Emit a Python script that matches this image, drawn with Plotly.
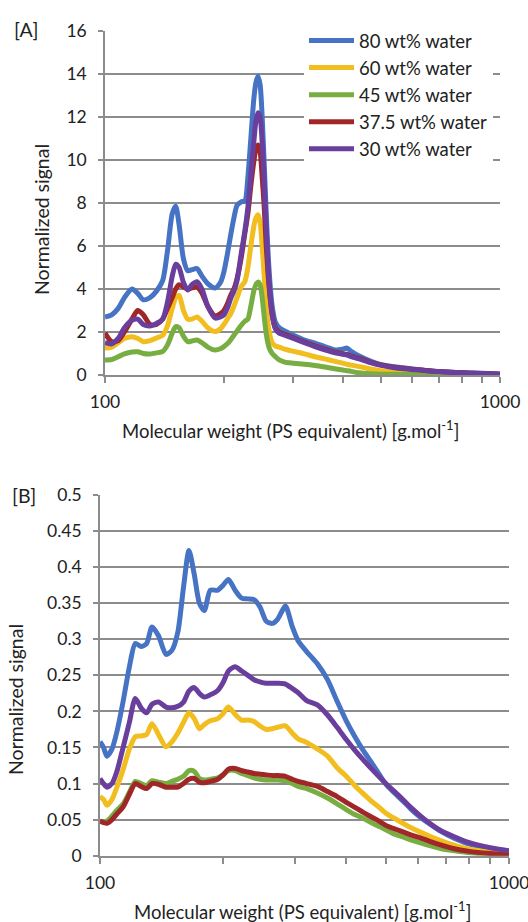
import plotly.graph_objects as go

# ---------------- Panel A data ----------------
mw_a = [100, 104, 108, 112, 117, 121, 125, 130, 135, 140,
        144, 148, 151, 154, 158, 162, 166, 171, 176, 182,
        190, 196, 200, 204, 208, 212, 216, 221, 226, 230,
        234, 238, 241, 244, 247, 250, 253, 256, 260, 265,
        270, 276, 285, 300, 320, 340, 360, 385, 400, 410,
        420, 440, 470, 500, 540, 600, 650, 700, 800, 900, 1000]

a_w80 = [2.7, 2.8, 3.1, 3.6, 4.0, 3.8, 3.5, 3.6, 3.9, 4.4,
         5.8, 7.5, 7.85, 7.0, 5.4, 4.85, 4.9, 4.95, 4.6, 4.25,
         4.05, 4.3, 4.8, 5.6, 6.5, 7.3, 7.9, 8.05, 8.1, 9.2,
         11.0, 12.8, 13.6, 13.9, 13.5, 12.0, 9.8, 7.5, 5.0, 3.2,
         2.45, 2.2, 2.05, 1.85, 1.62, 1.48, 1.32, 1.16, 1.2, 1.25,
         1.1, 0.88, 0.65, 0.48, 0.38, 0.28, 0.2, 0.15, 0.1, 0.08, 0.05]

a_w60 = [1.25, 1.3, 1.5, 1.7, 1.78, 1.7, 1.55, 1.6, 1.72, 1.85,
         2.3, 3.1, 3.6, 3.7, 3.0, 2.6, 2.6, 2.7, 2.5, 2.2,
         2.02, 2.15, 2.35, 2.6, 2.85, 3.2, 3.6, 4.1, 4.35, 5.0,
         6.0, 6.9, 7.3, 7.45, 7.1, 6.0, 4.6, 3.2, 2.1, 1.5,
         1.35, 1.3, 1.2, 1.1, 0.98, 0.85, 0.75, 0.62, 0.55, 0.5,
         0.46, 0.39, 0.28, 0.2, 0.14, 0.08, 0.06, 0.05, 0.03, 0.02, 0.01]

a_w45 = [0.7, 0.72, 0.85, 0.98, 1.07, 1.08, 1.0, 0.98, 1.03, 1.1,
         1.4, 1.95, 2.25, 2.2, 1.8, 1.55, 1.58, 1.63, 1.5, 1.3,
         1.16, 1.22, 1.32, 1.45, 1.63, 1.85, 2.05, 2.3, 2.5, 2.6,
         3.2, 3.9, 4.2, 4.33, 4.2, 3.6, 2.7, 1.9, 1.3, 1.0,
         0.85, 0.7, 0.6, 0.55, 0.5, 0.44, 0.37, 0.28, 0.23, 0.2,
         0.17, 0.1, 0.06, 0.04, 0.03, 0.02, 0.01, 0.01, 0.0, 0.0, 0.0]

a_w375 = [1.95, 1.55, 1.6, 2.0, 2.6, 3.0, 2.8, 2.35, 2.35, 2.6,
          3.1, 3.6, 4.0, 4.2, 4.1, 4.0, 4.05, 4.1, 3.8, 3.2,
          2.75, 2.85, 3.0, 3.3, 3.7, 4.0, 4.5, 5.4, 6.6, 7.5,
          8.8, 9.9, 10.5, 10.7, 10.4, 9.2, 7.8, 6.0, 4.2, 2.8,
          2.2, 2.0, 1.9, 1.73, 1.53, 1.35, 1.2, 1.05, 0.99, 0.96,
          0.89, 0.78, 0.6, 0.47, 0.36, 0.27, 0.21, 0.16, 0.1, 0.07, 0.04]

a_w30 = [1.5, 1.45, 1.7, 2.2, 2.55, 2.6, 2.35, 2.28, 2.4, 2.6,
         3.4, 4.6, 5.15, 5.0, 4.3, 3.95, 4.2, 4.34, 4.0, 3.2,
         2.65, 2.7, 2.8, 3.1, 3.55, 3.9, 4.4, 5.6, 6.7, 7.8,
         9.3, 10.8, 11.8, 12.2, 12.0, 10.8, 9.0, 6.8, 4.4, 2.8,
         2.15, 1.95, 1.85, 1.7, 1.5, 1.32, 1.17, 1.02, 0.96, 0.93,
         0.86, 0.75, 0.58, 0.45, 0.34, 0.26, 0.2, 0.16, 0.1, 0.07, 0.04]

# ---------------- Panel B data ----------------
mw_b = [100, 102, 104, 107, 110, 114, 118, 122, 126, 130,
        134, 139, 145, 150, 155, 160, 165, 170, 175, 180,
        186, 194, 200, 206, 214, 222, 230, 238, 246, 255,
        264, 272, 284, 295, 305, 320, 340, 360, 380, 400,
        420, 440, 460, 484, 500, 520, 550, 575, 605, 640,
        680, 730, 800, 900, 1000]

b_w80 = [0.158, 0.15, 0.138, 0.148, 0.172, 0.215, 0.262, 0.294, 0.29, 0.294,
         0.317, 0.305, 0.279, 0.285, 0.31, 0.372, 0.423, 0.39, 0.35, 0.34,
         0.368, 0.368, 0.375, 0.383, 0.368, 0.357, 0.356, 0.355, 0.345, 0.325,
         0.322, 0.328, 0.346, 0.318, 0.298, 0.283, 0.266, 0.244, 0.214, 0.187,
         0.165, 0.146, 0.13, 0.111, 0.099, 0.089, 0.076, 0.065, 0.054, 0.044,
         0.034, 0.025, 0.016, 0.01, 0.006]

b_w60 = [0.082, 0.078, 0.07, 0.078, 0.095, 0.12, 0.148, 0.165, 0.166, 0.168,
         0.183, 0.168, 0.151, 0.158, 0.17, 0.185, 0.198, 0.19, 0.176, 0.182,
         0.187, 0.19, 0.197, 0.206, 0.196, 0.188, 0.188, 0.186, 0.18, 0.175,
         0.176, 0.178, 0.18, 0.17, 0.162, 0.157, 0.148, 0.138, 0.122, 0.11,
         0.097, 0.086, 0.076, 0.066, 0.059, 0.053, 0.045, 0.039, 0.033, 0.027,
         0.021, 0.015, 0.009, 0.005, 0.002]

b_w45 = [0.048, 0.047, 0.048, 0.055, 0.063, 0.072, 0.088, 0.103, 0.1, 0.097,
         0.104, 0.102, 0.1, 0.103, 0.106, 0.11, 0.118, 0.117, 0.107, 0.105,
         0.106, 0.108, 0.112, 0.118, 0.118, 0.114, 0.111, 0.108, 0.106, 0.105,
         0.105, 0.105, 0.104, 0.1, 0.096, 0.093, 0.087, 0.08, 0.072, 0.064,
         0.057, 0.052, 0.046, 0.04, 0.036, 0.031, 0.026, 0.022, 0.018, 0.014,
         0.01, 0.007, 0.004, 0.002, 0.001]

b_w375 = [0.048, 0.046, 0.045, 0.05, 0.058, 0.068, 0.085, 0.1, 0.096, 0.093,
          0.1, 0.099, 0.095, 0.095, 0.095, 0.1, 0.106, 0.107, 0.102, 0.101,
          0.103, 0.106, 0.112, 0.12, 0.121, 0.118, 0.116, 0.114, 0.113, 0.112,
          0.111, 0.111, 0.11, 0.106, 0.103, 0.1, 0.096, 0.089, 0.082, 0.074,
          0.067, 0.06, 0.054, 0.047, 0.042, 0.038, 0.033, 0.029, 0.025, 0.02,
          0.015, 0.01, 0.006, 0.003, 0.001]

b_w30 = [0.107, 0.1, 0.095, 0.1, 0.117, 0.151, 0.185, 0.218, 0.205, 0.198,
         0.21, 0.213, 0.206, 0.205, 0.207, 0.213, 0.228, 0.233, 0.225, 0.22,
         0.223, 0.229, 0.24, 0.256, 0.262, 0.256, 0.25, 0.244, 0.241, 0.239,
         0.239, 0.239, 0.238, 0.232, 0.226, 0.215, 0.209, 0.195, 0.178, 0.161,
         0.146, 0.133, 0.121, 0.108, 0.1, 0.091, 0.078, 0.067, 0.056, 0.045,
         0.035, 0.027, 0.018, 0.011, 0.007]

series_names = ["80 wt% water", "60 wt% water", "45 wt% water",
                "37.5 wt% water", "30 wt% water"]
series_colors = ["#4673C4", "#F2BD1F", "#78AD41", "#A02628", "#6A3E9C"]
panel_a = [a_w80, a_w60, a_w45, a_w375, a_w30]
panel_b = [b_w80, b_w60, b_w45, b_w375, b_w30]

x_major_vals = [100, 1000]
x_major_text = ["100", "1000"]
x_minor_vals = [200, 300, 400, 500, 600, 700, 800, 900]

FONT = "Lato, Open Sans, sans-serif"
TXT = "#222222"
GRID = "#8C8C8C"
W, H = 528, 922

fig = go.Figure()
for name, col, ya in zip(series_names, series_colors, panel_a):
    fig.add_trace(go.Scatter(x=mw_a, y=ya, mode="lines", name=name,
                             line=dict(color=col, width=5, shape="spline", smoothing=0.7),
                             xaxis="x", yaxis="y", showlegend=True))
for name, col, yb in zip(series_names, series_colors, panel_b):
    fig.add_trace(go.Scatter(x=mw_b, y=yb, mode="lines", name=name,
                             line=dict(color=col, width=5, shape="spline", smoothing=0.7),
                             xaxis="x2", yaxis="y2", showlegend=False))

def px_x(p):
    return p / W

def px_y(p):
    return 1 - p / H

xa_common = dict(type="log", range=[2, 3], tickvals=x_major_vals, ticktext=x_major_text,
                 ticks="outside", ticklen=6, tickwidth=1.5, tickcolor=GRID,
                 minor=dict(tickvals=x_minor_vals, ticks="outside", ticklen=6,
                            tickwidth=1.5, tickcolor=GRID, showgrid=False),
                 showline=True, linecolor=GRID, linewidth=1.6, showgrid=False,
                 zeroline=False, automargin=False, ticklabeloverflow="allow",
                 tickfont=dict(family=FONT, size=17.5, color=TXT),
                 ticklabelstandoff=4)
ya_common = dict(ticks="outside", ticklen=5, tickwidth=1.5, tickcolor=GRID,
                 showline=True, linecolor=GRID, linewidth=1.6, automargin=False,
                 showgrid=True, gridcolor=GRID, gridwidth=1.6, zeroline=False,
                 tickfont=dict(family=FONT, size=17.5, color=TXT))

fig.update_layout(
    width=W, height=H,
    margin=dict(l=0, r=0, t=0, b=0, pad=0, autoexpand=False),
    paper_bgcolor="white", plot_bgcolor="white",
    font=dict(family=FONT, color=TXT),
    xaxis=dict(domain=[px_x(105), px_x(500)], anchor="y", **xa_common),
    yaxis=dict(domain=[px_y(375), px_y(31)], anchor="x", range=[0, 16], dtick=2,
               ticklabelstandoff=8, **ya_common),
    xaxis2=dict(domain=[px_x(100), px_x(509)], anchor="y2", **xa_common),
    yaxis2=dict(domain=[px_y(855.7), px_y(495)], anchor="x2", range=[0, 0.5],
                tickvals=[0, 0.05, 0.1, 0.15, 0.2, 0.25, 0.3, 0.35, 0.4, 0.45, 0.5],
                ticktext=["0", "0.05", "0.1", "0.15", "0.2", "0.25", "0.3",
                          "0.35", "0.4", "0.45", "0.5"],
                ticklabelstandoff=8, **ya_common),
    legend=dict(x=px_x(304), y=px_y(22), xanchor="left", yanchor="top",
                bgcolor="white", borderwidth=0, itemwidth=45,
                font=dict(family=FONT, size=18.5, color=TXT), tracegroupgap=0),
    annotations=[
        dict(text="[A]", x=px_x(26), y=px_y(30), xref="paper", yref="paper",
             xanchor="center", yanchor="middle",
             showarrow=False, font=dict(family=FONT, size=19.5, color=TXT)),
        dict(text="[B]", x=px_x(24), y=px_y(495), xref="paper", yref="paper",
             xanchor="center", yanchor="middle",
             showarrow=False, font=dict(family=FONT, size=19.5, color=TXT)),
        dict(text="Normalized signal", x=px_x(42), y=px_y(220), xref="paper",
             yref="paper", showarrow=False, textangle=-90,
             xanchor="center", yanchor="middle",
             font=dict(family=FONT, size=19.5, color=TXT)),
        dict(text="Normalized signal", x=px_x(15), y=px_y(700), xref="paper",
             yref="paper", showarrow=False, textangle=-90,
             xanchor="center", yanchor="middle",
             font=dict(family=FONT, size=19.5, color=TXT)),
        dict(text="Molecular weight (PS equivalent) [g.mol<sup>-1</sup>]",
             x=px_x(290), y=px_y(430), xref="paper", yref="paper", showarrow=False,
             xanchor="center", yanchor="middle",
             font=dict(family=FONT, size=18.5, color=TXT)),
        dict(text="Molecular weight (PS equivalent) [g.mol<sup>-1</sup>]",
             x=px_x(302), y=px_y(910), xref="paper", yref="paper", showarrow=False,
             xanchor="center", yanchor="middle",
             font=dict(family=FONT, size=18.5, color=TXT)),
    ],
)

fig.write_html("out.html")
